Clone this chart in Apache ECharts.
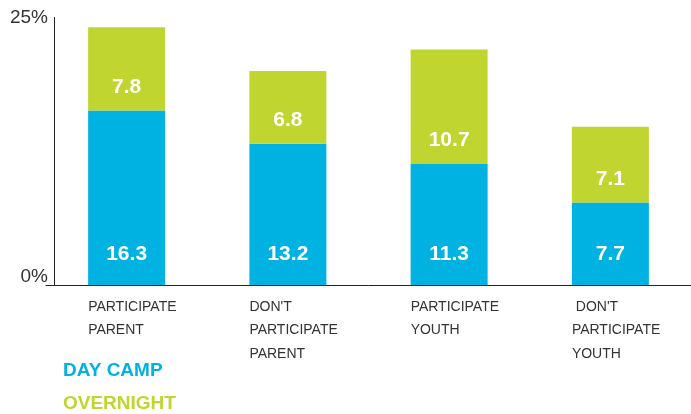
<!DOCTYPE html>
<html>
<head>
<meta charset="utf-8">
<script src="https://cdn.jsdelivr.net/npm/echarts@6/dist/echarts.min.js"></script>
<style>
  html, body { margin: 0; padding: 0; background: #fff; }
  #chart { width: 691px; height: 414px; }
</style>
</head>
<body>
<div id="chart"></div>
<script>
// chart data
var categories = [
  ['PARTICIPATE', 'PARENT'],
  ["DON'T", 'PARTICIPATE', 'PARENT'],
  ['PARTICIPATE', 'YOUTH'],
  [" DON'T", 'PARTICIPATE', 'YOUTH']
]
var dayCamp = [16.3, 13.2, 11.3, 7.7]
var overnight = [7.8, 6.8, 10.7, 7.1]
var yTicks = [0, 25]

var BLUE = '#00b2e2'
var GREEN = '#c0d530'
var FONT = 'Liberation Sans'

var chart = echarts.init(document.getElementById('chart'))

var catNames = categories.map(function (c) { return c.join('\n') })

chart.setOption({
  animation: false,
  textStyle: { fontFamily: FONT },
  grid: { left: 46, right: 0, top: 17.5, bottom: 129 },
  legend: {
    orient: 'vertical',
    left: 53,
    top: 356,
    height: 60,
    itemWidth: 0,
    itemHeight: 0,
    itemGap: 14,
    selectedMode: false,
    textStyle: { fontFamily: FONT, fontSize: 19, fontWeight: 'bold' },
    data: [
      { name: 'DAY CAMP', textStyle: { color: BLUE } },
      { name: 'OVERNIGHT', textStyle: { color: GREEN } }
    ]
  },
  xAxis: {
    type: 'category',
    data: catNames,
    axisLine: { lineStyle: { color: '#222', width: 1 } },
    axisTick: { show: false },
    axisLabel: {
      margin: 10,
      align: 'center',
      formatter: function (val) {
        return val.split('\n').map(function (s) { return '{a|' + s + '}' }).join('\n')
      },
      rich: {
        a: { width: 77, align: 'left', fontSize: 14, lineHeight: 23.5, color: '#333', fontFamily: FONT }
      }
    }
  },
  yAxis: {
    type: 'value',
    min: yTicks[0],
    max: yTicks[1],
    interval: 25,
    offset: -8,
    splitLine: { show: false },
    axisTick: { show: false },
    axisLine: { show: true, lineStyle: { color: '#222', width: 1 } },
    axisLabel: {
      margin: 6,
      formatter: function (v) {
        return v === 0 ? '{b|' + v + '%}' : '{t|' + v + '%}'
      },
      rich: {
        t: { fontSize: 19, color: '#333', fontFamily: FONT },
        b: { fontSize: 19, color: '#333', fontFamily: FONT, padding: [0, 0, 16, 0] }
      }
    }
  },
  series: [
    {
      name: 'DAY CAMP',
      type: 'bar',
      stack: 'camp',
      barWidth: 77,
      itemStyle: { color: BLUE },
      label: {
        show: true,
        position: 'insideBottom',
        distance: 20,
        color: '#fff',
        fontSize: 21,
        fontWeight: 'bold',
        fontFamily: FONT
      },
      data: dayCamp
    },
    {
      name: 'OVERNIGHT',
      type: 'bar',
      stack: 'camp',
      barWidth: 77,
      itemStyle: { color: GREEN },
      label: {
        show: true,
        position: 'insideBottom',
        distance: 13,
        color: '#fff',
        fontSize: 21,
        fontWeight: 'bold',
        fontFamily: FONT
      },
      data: overnight
    }
  ]
})
</script>
</body>
</html>
